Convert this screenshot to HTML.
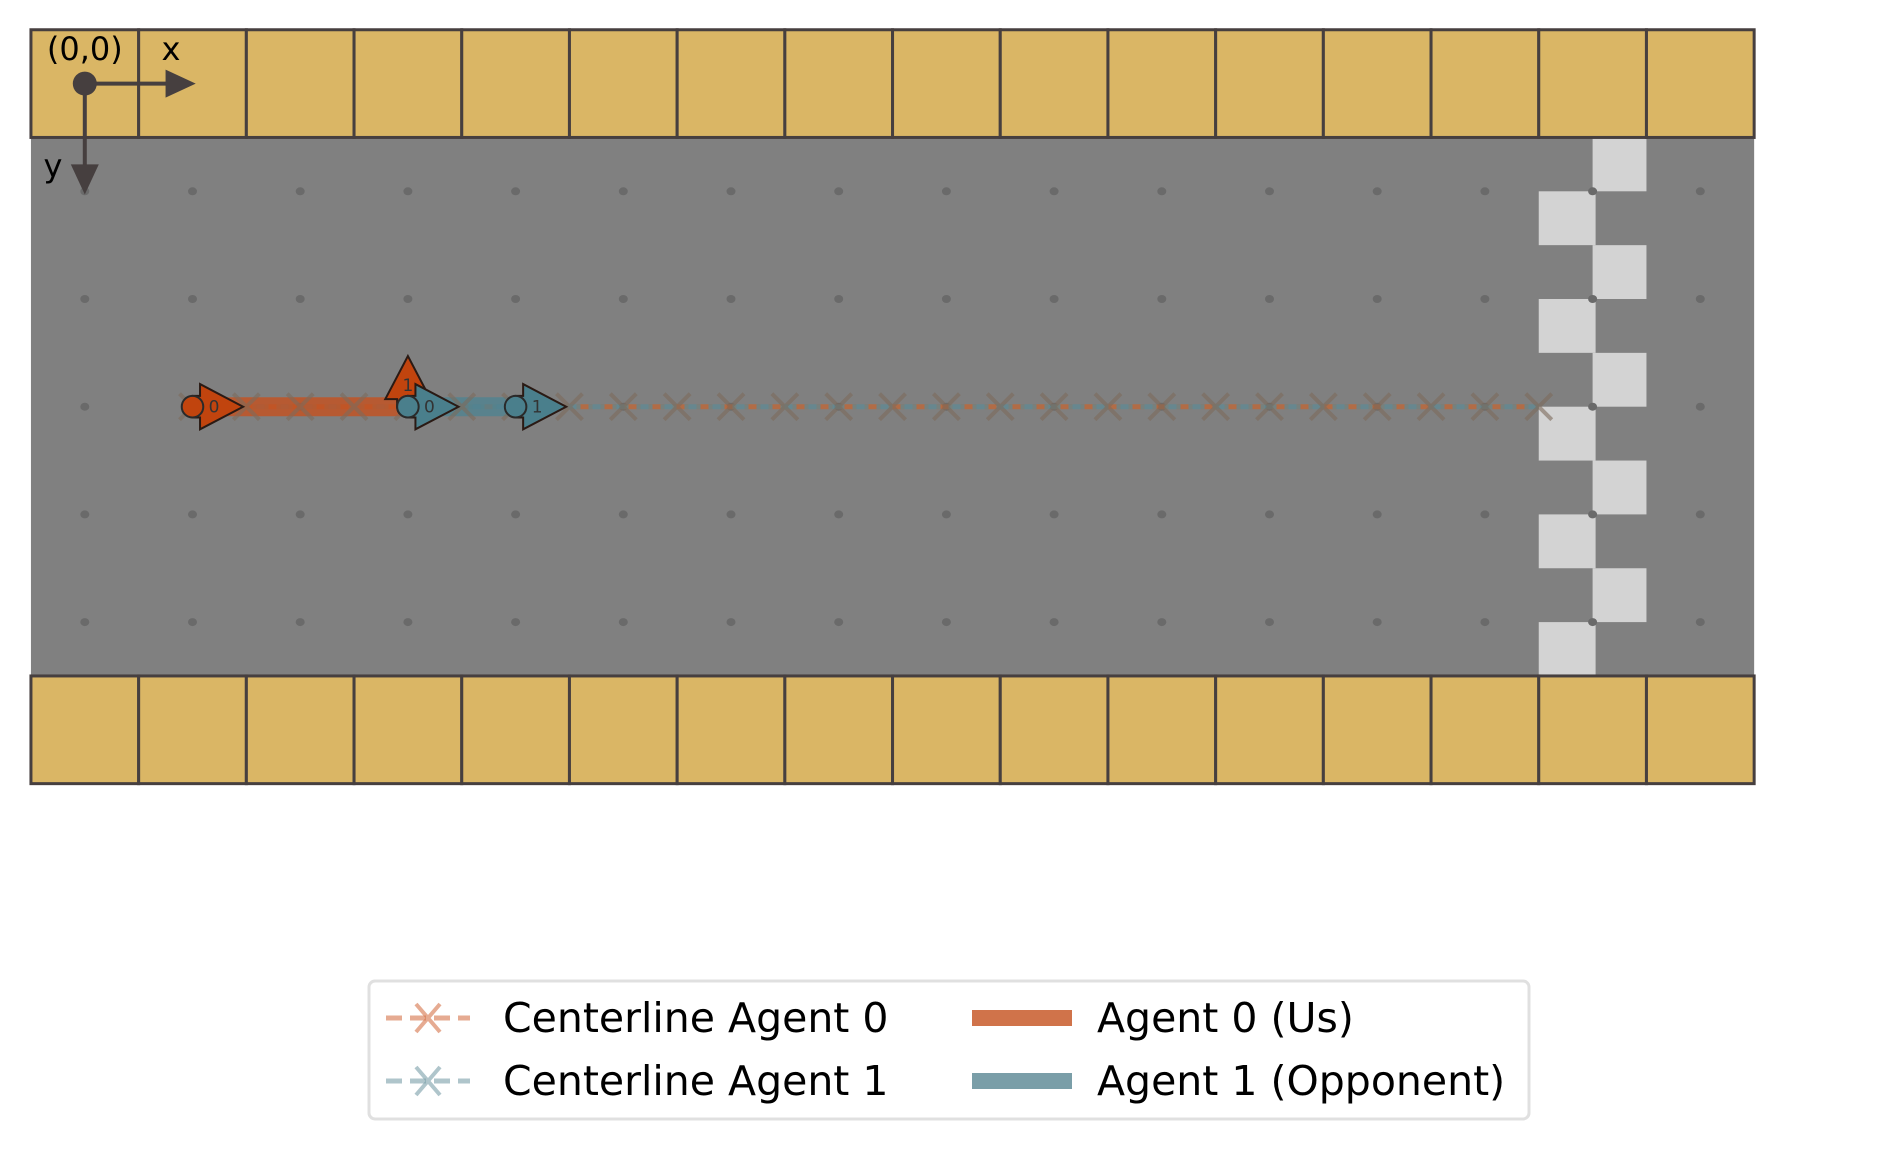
<!DOCTYPE html>
<html><head><meta charset="utf-8">
<style>
html,body{margin:0;padding:0;background:#fff;}
svg{display:block;font-family:"DejaVu Sans","Liberation Sans",sans-serif;}
</style></head>
<body>
<svg id="chart" width="1890" height="1150" viewBox="0 0 1890 1150" xmlns="http://www.w3.org/2000/svg">
<g id="track"></g>
<g id="legend">
  <rect x="369" y="981" width="1160" height="138" rx="6" fill="#fff" stroke="#e0e0e0" stroke-width="3"/>
  <g>
    <line x1="386" y1="1018" x2="470" y2="1018" stroke="#d5734a" stroke-opacity="0.6" stroke-width="5" stroke-dasharray="16,8"/>
    <path d="M416 1004 L440 1032 M440 1004 L416 1032" stroke="#d5734a" stroke-opacity="0.6" stroke-width="4"/>
    <text x="503" y="1032" font-size="41" fill="#000">Centerline Agent 0</text>
  </g>
  <g>
    <line x1="386" y1="1081" x2="470" y2="1081" stroke="#7a9ea8" stroke-opacity="0.6" stroke-width="5" stroke-dasharray="16,8"/>
    <path d="M416 1067 L440 1095 M440 1067 L416 1095" stroke="#7a9ea8" stroke-opacity="0.6" stroke-width="4"/>
    <text x="503" y="1095" font-size="41" fill="#000">Centerline Agent 1</text>
  </g>
  <g>
    <rect x="972" y="1010" width="100" height="16" fill="#d0734a"/>
    <text x="1097" y="1032" font-size="41" fill="#000">Agent 0 (Us)</text>
  </g>
  <g>
    <rect x="972" y="1073" width="100" height="16" fill="#7a9ea8"/>
    <text x="1097" y="1095" font-size="41" fill="#000">Agent 1 (Opponent)</text>
  </g>
</g>
</svg>
<script>
// ---- data ----
const centerlineX = [1,1.5,2,2.5,3,3.5,4,4.5,5,5.5,6,6.5,7,7.5,8,8.5,9,9.5,10,10.5,11,11.5,12,12.5,13,13.5];
const centerlineY = 3;
const agent0X = [1, 3];
const agent0Y = [3, 3];
const agent0Heading = [0, -90];
const agent1X = [3, 4];
const agent1Y = [3, 3];
const agent1Heading = [0, 0];
const gridCols = [0,1,2,3,4,5,6,7,8,9,10,11,12,13,14,15];
const gridRows = [1,2,3,4,5];

// ---- axis functions ----
const U = 107.7, X0 = 84.8, Y0 = 83.6;
function sx(u){ return X0 + U*u; }
function sy(v){ return Y0 + U*v; }

const NS = "http://www.w3.org/2000/svg";
const g = document.getElementById('track');
function mk(tag, attrs, parent){
  const e = document.createElementNS(NS, tag);
  for (const k in attrs) e.setAttribute(k, attrs[k]);
  (parent||g).appendChild(e);
  return e;
}

// road
const road = mk('rect', {x:sx(-0.5), y:sy(0.5), width:U*16, height:U*5, fill:'#808080'});



// finish line checkers
for (let i = 0; i < 10; i++) {
  const yy = 0.5 + i*0.5;
  const left = (i % 2 === 1);
  const c = mk('rect', {x:sx(left?13.5:14.0), y:sy(yy), width:U*0.5+ (left?3:0), height:U*0.5, fill:'#d3d3d3'});
  
  
}

// grid dots
gridRows.forEach(r => gridCols.forEach(c => {
  const d = mk('ellipse', {cx:sx(c), cy:sy(r), rx:4.5, ry:4, fill:'#6a6a6a'});
  
  
}));

// walls
[0, 6].forEach(row => gridCols.forEach(c => {
  const w = mk('rect', {x:sx(c-0.5), y:sy(row-0.5), width:U, height:U, fill:'#dab665', stroke:'#463f3f', 'stroke-width':3});
  
  
}));

// centerlines
const cx0 = sx(centerlineX[0]), cx1 = sx(centerlineX[centerlineX.length-1]);
const cl0 = mk('line', {x1:cx0, y1:sy(centerlineY), x2:cx1, y2:sy(centerlineY), stroke:'#c8642e', 'stroke-width':5, 'stroke-opacity':0.7, 'stroke-dasharray':'16,8'});


const cl1 = mk('line', {x1:cx0, y1:sy(centerlineY), x2:cx1, y2:sy(centerlineY), stroke:'#5d8a96', 'stroke-width':5, 'stroke-opacity':0.7, 'stroke-dasharray':'16,8', 'stroke-dashoffset':12});



// trajectories
function traj(xs, ys, color, name){
  let d = '';
  xs.forEach((x,i)=>{ d += (i?'L':'M') + sx(x) + ' ' + sy(ys[i]) + ' '; });
  const p = mk('path', {d:d, stroke:color, 'stroke-width':19, 'stroke-opacity':0.8, fill:'none'});
  
  
}
traj(agent0X, agent0Y, '#c4501e', 'agent-0-trajectory');
traj(agent1X, agent1Y, '#4f8290', 'agent-1-trajectory');

centerlineX.forEach(x => {
  const X = sx(x), Y = sy(centerlineY), s = 13;
  const m = mk('path', {d:`M${X-s} ${Y-s} L${X+s} ${Y+s} M${X+s} ${Y-s} L${X-s} ${Y+s}`, stroke:'#7d6a5c', 'stroke-width':4, 'stroke-opacity':0.6});
  
  
});

// agent arrows
function agent(x, y, heading, label, fill, name){
  const grp = mk('g', {transform:`translate(${sx(x)},${sy(y)}) rotate(${heading})`});
  
  
  const r = 0.1*U, h = 0.21*U;
  mk('path', {d:`M0 ${-r} L${0.07*U} ${-r} L${0.07*U} ${-h} L${0.47*U} 0 L${0.07*U} ${h} L${0.07*U} ${r} L0 ${r} Z`, fill:fill, stroke:'#2a1a14', 'stroke-width':2}, grp);
  mk('circle', {cx:0, cy:0, r:r, fill:fill, stroke:'#2a2a2a', 'stroke-width':2}, grp);
  const t = mk('text', {x:0.2*U, y:6, 'font-size':17, fill:'#333', 'text-anchor':'middle', transform:`rotate(${-heading} ${0.2*U} 0)`}, grp);
  t.textContent = label;
}
agent0X.forEach((x,i)=> agent(x, agent0Y[i], agent0Heading[i], String(i), '#c1440e', 'agent-0-pose-'+i));
agent1X.forEach((x,i)=> agent(x, agent1Y[i], agent1Heading[i], String(i), '#4a7f8c', 'agent-1-pose-'+i));

// origin axes indicator
const ax = mk('g', {});


mk('line', {x1:sx(0), y1:sy(0), x2:sx(0.8), y2:sy(0), stroke:'#463f3f', 'stroke-width':4}, ax);
mk('path', {d:`M${sx(0.75)} ${sy(0)-14} L${sx(1.03)} ${sy(0)} L${sx(0.75)} ${sy(0)+14} Z`, fill:'#463f3f'}, ax);
mk('line', {x1:sx(0), y1:sy(0), x2:sx(0), y2:sy(0.8), stroke:'#463f3f', 'stroke-width':4}, ax);
mk('path', {d:`M${sx(0)-14} ${sy(0.75)} L${sx(0)} ${sy(1.03)} L${sx(0)+14} ${sy(0.75)} Z`, fill:'#463f3f'}, ax);
mk('circle', {cx:sx(0), cy:sy(0), r:12, fill:'#463f3f'}, ax);
const t1 = mk('text', {x:sx(0), y:60, 'font-size':32, 'text-anchor':'middle', fill:'#000'}, ax);

t1.textContent = '(0,0)';
const t2 = mk('text', {x:171, y:60, 'font-size':32, 'text-anchor':'middle', fill:'#000'}, ax);

t2.textContent = 'x';
const t3 = mk('text', {x:53, y:177, 'font-size':32, 'text-anchor':'middle', fill:'#000'}, ax);

t3.textContent = 'y';
</script>
</body></html>
